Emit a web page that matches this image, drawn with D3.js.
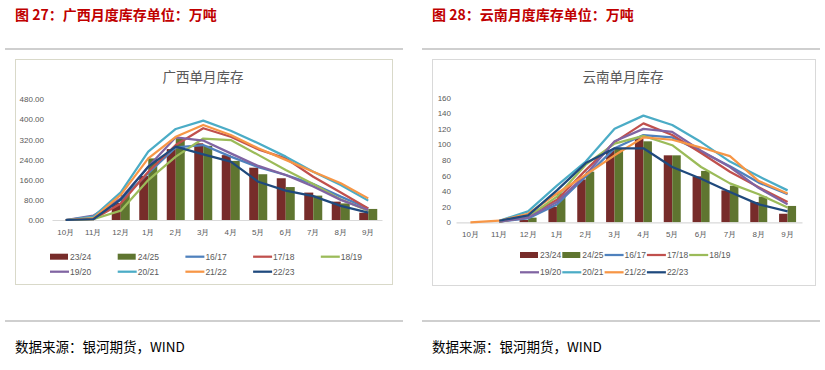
<!DOCTYPE html>
<html>
<head>
<meta charset="utf-8">
<script src="https://cdn.jsdelivr.net/npm/d3@7"></script>
<style>
  body { margin: 0; background: #fff; }
  svg { display: block; font-family: "Liberation Sans", Arial, "Noto Sans CJK SC", sans-serif; }
</style>
</head>
<body>
<svg id="chart" width="825" height="370"></svg>
<script>
// months on the x axis
const months = ['10月', '11月', '12月', '1月', '2月', '3月', '4月', '5月', '6月', '7月', '8月', '9月'];
const seasons = ['23/24', '24/25', '16/17', '17/18', '18/19', '19/20', '20/21', '21/22', '22/23'];
const colors = ['#772C2A', '#5F7530', '#4F81BD', '#C0504D', '#9BBB59', '#8064A2', '#4BACC6', '#F79646', '#1F497D'];

// 广西 (万吨)
const gx2324 = [0, 0, 68, 175, 282, 305, 258, 208, 166, 109, 73, 29];
const gx2425 = [0, 0, 100, 245, 325, 295, 235, 182, 131, 97, 66, 44];
const gx1617 = [0, 11, 80, 186, 289, 298, 252, 210, 179, 143, 93, 46];
const gx1718 = [0, 3, 66, 192, 298, 365, 331, 281, 245, 172, 109, 46];
const gx1819 = [0, 3, 37, 159, 252, 324, 318, 259, 199, 143, 82, 37];
const gx1920 = [0, 17, 86, 212, 329, 316, 265, 215, 179, 133, 80, 40];
const gx2021 = [0, 13, 110, 272, 362, 395, 355, 305, 252, 192, 139, 77];
const gx2122 = [0, 7, 100, 245, 331, 378, 338, 285, 239, 192, 146, 86];
const gx2223 = [0, 3, 82, 212, 292, 261, 232, 152, 117, 95, 56, 29];

// 云南 (万吨)
const yn2324 = [0, 0, 3, 20, 55, 93, 108, 86, 59, 41, 26, 11];
const yn2425 = [0, 0, 6, 37, 65, 95, 104, 86, 66, 47, 33, 21];
const yn1617 = [null, 1, 5, 23, 59, 95, 112, 109, 91, 72, 51, 36];
const yn1718 = [null, 1, 8, 29, 67, 103, 127, 112, 89, 65, 45, 26];
const yn1819 = [null, 1, 7, 33, 74, 101, 111, 99, 71, 50, 36, 19];
const yn1920 = [null, 1, 6, 26, 61, 104, 120, 116, 92, 71, 44, 23];
const yn2021 = [null, 2, 14, 47, 78, 120, 137, 125, 103, 78, 59, 41];
const yn2122 = [0, 2, 11, 37, 61, 86, 109, 106, 96, 85, 53, 37];
const yn2223 = [null, 2, 9, 41, 76, 95, 95, 71, 56, 39, 23, 14];

const gxTicks = [0, 80, 160, 240, 320, 400, 480];
const ynTicks = [0, 20, 40, 60, 80, 100, 120, 140, 160];

const svg = d3.select('#chart');

function header(x, title) {
  svg.append('text')
    .attr('x', x).attr('y', 20)
    .attr('fill', '#C00000')
    .attr('font-size', 14).attr('font-weight', 'bold')
    .attr('font-family', '"Noto Sans CJK SC", sans-serif')
    .text(title);
  svg.append('line')
    .attr('x1', x - 10).attr('x2', x + 388).attr('y1', 49).attr('y2', 49)
    .attr('stroke', '#BFBFBF').attr('stroke-width', 1.5);
  svg.append('line')
    .attr('x1', x - 10).attr('x2', x + 388).attr('y1', 321).attr('y2', 321)
    .attr('stroke', '#BFBFBF').attr('stroke-width', 1.5);
  svg.append('text')
    .attr('x', x).attr('y', 352)
    .attr('fill', '#000')
    .attr('font-size', 13.5)
    .attr('font-family', '"Noto Sans CJK SC", sans-serif')
    .text('数据来源：银河期货，WIND');
}

function drawChart(cfg) {
  const g = svg.append('g');

  g.append('rect')
    .attr('x', cfg.box[0] + 0.5).attr('y', cfg.box[1] + 0.5)
    .attr('width', cfg.box[2]).attr('height', cfg.box[3])
    .attr('fill', '#fff').attr('stroke', cfg.boxColor);

  g.append('text')
    .attr('x', cfg.titleX).attr('y', 82)
    .attr('text-anchor', 'middle')
    .attr('fill', '#595959').attr('font-size', 13.5)
    .attr('font-family', '"Noto Sans CJK SC", sans-serif')
    .text(cfg.title);

  const x = d3.scaleBand().domain(months).range(cfg.xRange);
  const y = d3.scaleLinear().domain([0, d3.max(cfg.ticks)]).range(cfg.yRange);

  // y labels only
  const yAxis = g.append('g')
    .attr('transform', `translate(${cfg.xRange[0]},0)`)
    .call(d3.axisLeft(y).tickValues(cfg.ticks).tickFormat(cfg.fmt).tickSize(0).tickPadding(cfg.yPad));
  yAxis.select('.domain').remove();
  yAxis.selectAll('text').attr('fill', '#595959').attr('font-size', 8);

  // bars
  const bw = cfg.barW;
  [cfg.bars[0], cfg.bars[1]].forEach((vals, k) => {
    g.selectAll(null)
      .data(vals.map((v, i) => ({ m: months[i], v })))
      .enter().append('rect')
      .attr('x', d => x(d.m) + x.bandwidth() / 2 - bw + k * bw)
      .attr('y', d => y(d.v))
      .attr('width', bw)
      .attr('height', d => y(0) - y(d.v))
      .attr('fill', colors[k]);
  });

  // x axis
  const xAxis = g.append('g')
    .attr('transform', `translate(0,${y(0)})`)
    .call(d3.axisBottom(x).tickSize(0).tickPadding(9));
  xAxis.select('.domain').attr('stroke', '#D9D9D9').attr('stroke-width', 1.2);
  xAxis.selectAll('text').attr('fill', '#595959').attr('font-size', 8);

  // lines
  const line = d3.line()
    .defined(d => d.v != null)
    .x(d => x(d.m) + x.bandwidth() / 2)
    .y(d => y(d.v));
  cfg.lines.forEach((vals, k) => {
    g.append('path')
      .datum(vals.map((v, i) => ({ m: months[i], v })))
      .attr('fill', 'none')
      .attr('stroke', colors[k + 2])
      .attr('stroke-width', 2.25)
      .attr('stroke-linejoin', 'round')
      .attr('d', line);
  });

  // legend
  seasons.forEach((s, i) => {
    const row = i < 5 ? 0 : 1;
    const col = i < 5 ? i : i - 5;
    const lx = cfg.legX + col * cfg.legStep;
    const ly = cfg.legY[row];
    if (i < 2) {
      g.append('rect')
        .attr('x', lx).attr('y', ly - 3)
        .attr('width', 18).attr('height', 6)
        .attr('fill', colors[i]);
    } else {
      g.append('line')
        .attr('x1', lx).attr('x2', lx + 19)
        .attr('y1', ly).attr('y2', ly)
        .attr('stroke', colors[i]).attr('stroke-width', 2.25);
    }
    g.append('text')
      .attr('x', lx + 20).attr('y', ly)
      .attr('dy', '0.35em')
      .attr('fill', '#595959').attr('font-size', 8.5)
      .text(s);
  });
}

header(15, '图 27：广西月度库存单位：万吨');
header(432, '图 28：云南月度库存单位：万吨');

drawChart({
  box: [15, 59, 377, 225], boxColor: '#D9D9C9',
  title: '广西单月库存', titleX: 203,
  xRange: [52, 382], yRange: [220, 99.3], ticks: gxTicks, fmt: d3.format('.2f'), yPad: 8,
  barW: 9,
  bars: [gx2324, gx2425],
  lines: [gx1617, gx1718, gx1819, gx1920, gx2021, gx2122, gx2223],
  legX: 50, legStep: 67.7, legY: [256.7, 271.7]
});

drawChart({
  box: [432, 59, 383, 226], boxColor: '#D9D9D9',
  title: '云南单月库存', titleX: 623,
  xRange: [456, 802], yRange: [222.3, 97.7], ticks: ynTicks, fmt: d3.format('d'), yPad: 5,
  barW: 8.5,
  bars: [yn2324, yn2425],
  lines: [yn1617, yn1718, yn1819, yn1920, yn2021, yn2122, yn2223],
  legX: 520, legStep: 42.3, legY: [255, 272.3]
});
</script>
</body>
</html>
